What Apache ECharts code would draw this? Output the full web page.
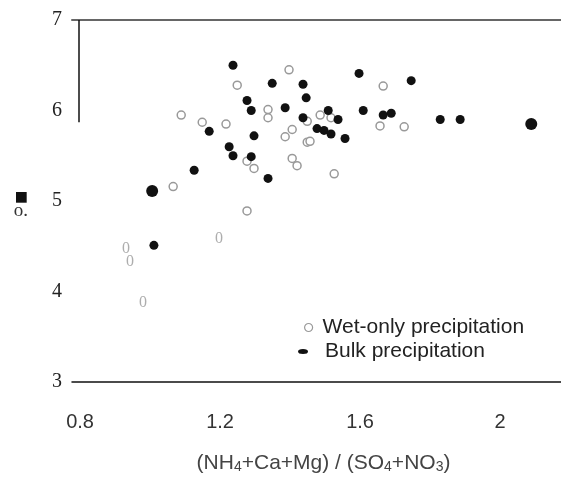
<!DOCTYPE html>
<html>
<head>
<meta charset="utf-8">
<script src="https://cdn.jsdelivr.net/npm/echarts@6/dist/echarts.min.js"></script>
<style>html,body{margin:0;padding:0;background:#fff}#c{width:561px;height:479px}</style>
</head>
<body>
<div id="c"></div>
<script>
// ---- data ----
const xTickLabels = [0.8, 1.2, 1.6, 2.0];
const yTickLabels = [3, 4, 5, 6, 7];
const xRange = [0.777, 2.174];
const yRange = [3, 7];

// Wet-only precipitation, drawn as open circles
const wetOnly = [
  [1.397, 6.45], [1.249, 6.28], [1.666, 6.27], [1.337, 6.01], [1.337, 5.92],
  [1.486, 5.95], [1.517, 5.92], [1.449, 5.88], [1.089, 5.95], [1.149, 5.87],
  [1.217, 5.85], [1.406, 5.79], [1.386, 5.71], [1.449, 5.65], [1.457, 5.66],
  [1.657, 5.83], [1.726, 5.82], [1.277, 5.44], [1.297, 5.36], [1.406, 5.47],
  [1.420, 5.39], [1.526, 5.30], [1.066, 5.16], [1.277, 4.89]
];
// Wet-only precipitation, points printed as a glyph
const wetOnlyGlyph = [
  [0.931, 4.47], [0.943, 4.33], [0.980, 3.88], [1.197, 4.58]
];
// Bulk precipitation, filled dots
const bulk = [
  [1.237, 6.50], [1.349, 6.30], [1.437, 6.29], [1.597, 6.41], [1.746, 6.33],
  [1.277, 6.11], [1.446, 6.14], [1.289, 6.00], [1.386, 6.03], [1.509, 6.00],
  [1.609, 6.00], [1.437, 5.92], [1.537, 5.90], [1.477, 5.80], [1.497, 5.78],
  [1.517, 5.74], [1.557, 5.69], [1.666, 5.95], [1.689, 5.97], [1.829, 5.90],
  [1.886, 5.90], [1.169, 5.77], [1.297, 5.72], [1.226, 5.60], [1.237, 5.50],
  [1.289, 5.49], [1.337, 5.25], [1.126, 5.34], [1.011, 4.51]
];
// Bulk precipitation, larger dots
const bulkLarge = [
  [1.006, 5.11], [2.089, 5.85]
];
// partial left frame line (x, yTop, yBottom)
const leftBar = [0.797, 7, 5.87];

const chart = echarts.init(document.getElementById('c'), null, {renderer: 'canvas'});

const sansFont = 'Liberation Sans, Arial, sans-serif';
const serifFont = 'Liberation Serif, Times New Roman, serif';

const option = {
  backgroundColor: '#fff',
  animation: false,
  grid: {left: 72, right: 0, top: 20, bottom: 91, containLabel: false},
  legend: [
    {
      data: [{name: 'Wet-only precipitation', icon: 'circle',
              itemStyle: {color: '#fff', borderColor: '#999', borderWidth: 1.2}}],
      left: 304, top: 317, padding: 0,
      itemWidth: 8, itemHeight: 8,
      textStyle: {fontFamily: sansFont, fontSize: 21, color: '#222', padding: [0, 0, 0, 5]}
    },
    {
      data: [{name: 'Bulk precipitation',
              icon: 'path://M0,2.5A5,2.5 0 1,0 10,2.5A5,2.5 0 1,0 0,2.5Z',
              itemStyle: {color: '#111'}}],
      left: 298, top: 341, padding: 0,
      itemWidth: 10, itemHeight: 5,
      textStyle: {fontFamily: sansFont, fontSize: 21, color: '#222', padding: [0, 0, 0, 12]}
    }
  ],
  xAxis: [
    {
      type: 'value', min: xRange[0], max: xRange[1],
      position: 'bottom',
      axisLine: {show: true, lineStyle: {color: '#111', width: 1.5}},
      axisTick: {show: false},
      splitLine: {show: false},
      axisLabel: {
        customValues: xTickLabels,
        margin: 30, fontFamily: sansFont, fontSize: 20, color: '#333',
        formatter: v => String(v)
      },
      name: '{n|(NH}{s|4}{n|+Ca+Mg) / (SO}{s|4}{n|+NO}{s|3}{n|)}',
      nameLocation: 'middle', nameGap: 70,
      nameTextStyle: {
        color: '#444',
        padding: [0, 0, 0, 14],
        rich: {
          n: {fontFamily: sansFont, fontSize: 21, color: '#444'},
          s: {fontFamily: sansFont, fontSize: 14, color: '#444', verticalAlign: 'bottom', padding: [8, 0, 0, 0]}
        }
      }
    },
    {
      type: 'value', min: xRange[0], max: xRange[1],
      position: 'top',
      axisLine: {show: true, lineStyle: {color: '#666', width: 2}},
      axisTick: {show: false}, axisLabel: {show: false}, splitLine: {show: false}
    }
  ],
  yAxis: {
    type: 'value', min: yRange[0], max: yRange[1], interval: 1,
    axisLine: {show: false}, axisTick: {show: false}, splitLine: {show: false},
    axisLabel: {margin: 10, fontFamily: serifFont, fontSize: 20, color: '#222',
      customValues: yTickLabels},
    name: '{sq|■}\n{o|o.}',
    nameLocation: 'middle', nameRotate: 0, nameGap: 44,
    nameTextStyle: {
      align: 'right',
      padding: [8, 0, 0, 0],
      rich: {
        sq: {fontFamily: 'DejaVu Sans', fontSize: 14, color: '#111', align: 'right', lineHeight: 13, padding: [0, 0, 0, 0]},
        o: {fontFamily: serifFont, fontSize: 19, color: '#333', align: 'right', lineHeight: 15}
      }
    }
  },
  series: [
    {
      name: 'Wet-only precipitation', type: 'scatter', data: wetOnly,
      symbol: 'circle', symbolSize: 8,
      itemStyle: {color: '#fff', borderColor: '#999', borderWidth: 1.5, opacity: 1}
    },
    {
      name: 'wetGlyph', type: 'scatter', data: wetOnlyGlyph,
      symbol: 'circle', symbolSize: 1,
      itemStyle: {color: 'rgba(0,0,0,0)'},
      label: {show: true, position: 'inside', formatter: '0', offset: [0, 0],
        fontFamily: serifFont, fontSize: 16, color: '#999'}
    },
    {
      name: 'Bulk precipitation', type: 'scatter', data: bulk,
      symbol: 'circle', symbolSize: 9,
      itemStyle: {color: '#111', opacity: 1},
      markLine: {
        silent: true, symbol: 'none', animation: false,
        lineStyle: {color: '#111', width: 1.5, type: 'solid'},
        label: {show: false},
        data: [[{coord: [leftBar[0], leftBar[1]]}, {coord: [leftBar[0], leftBar[2]]}]]
      }
    },
    {
      name: 'Bulk precipitation', type: 'scatter', data: bulkLarge,
      symbol: 'circle', symbolSize: 12,
      itemStyle: {color: '#111', opacity: 1}
    }
  ]
};
chart.setOption(option);
</script>
</body>
</html>
